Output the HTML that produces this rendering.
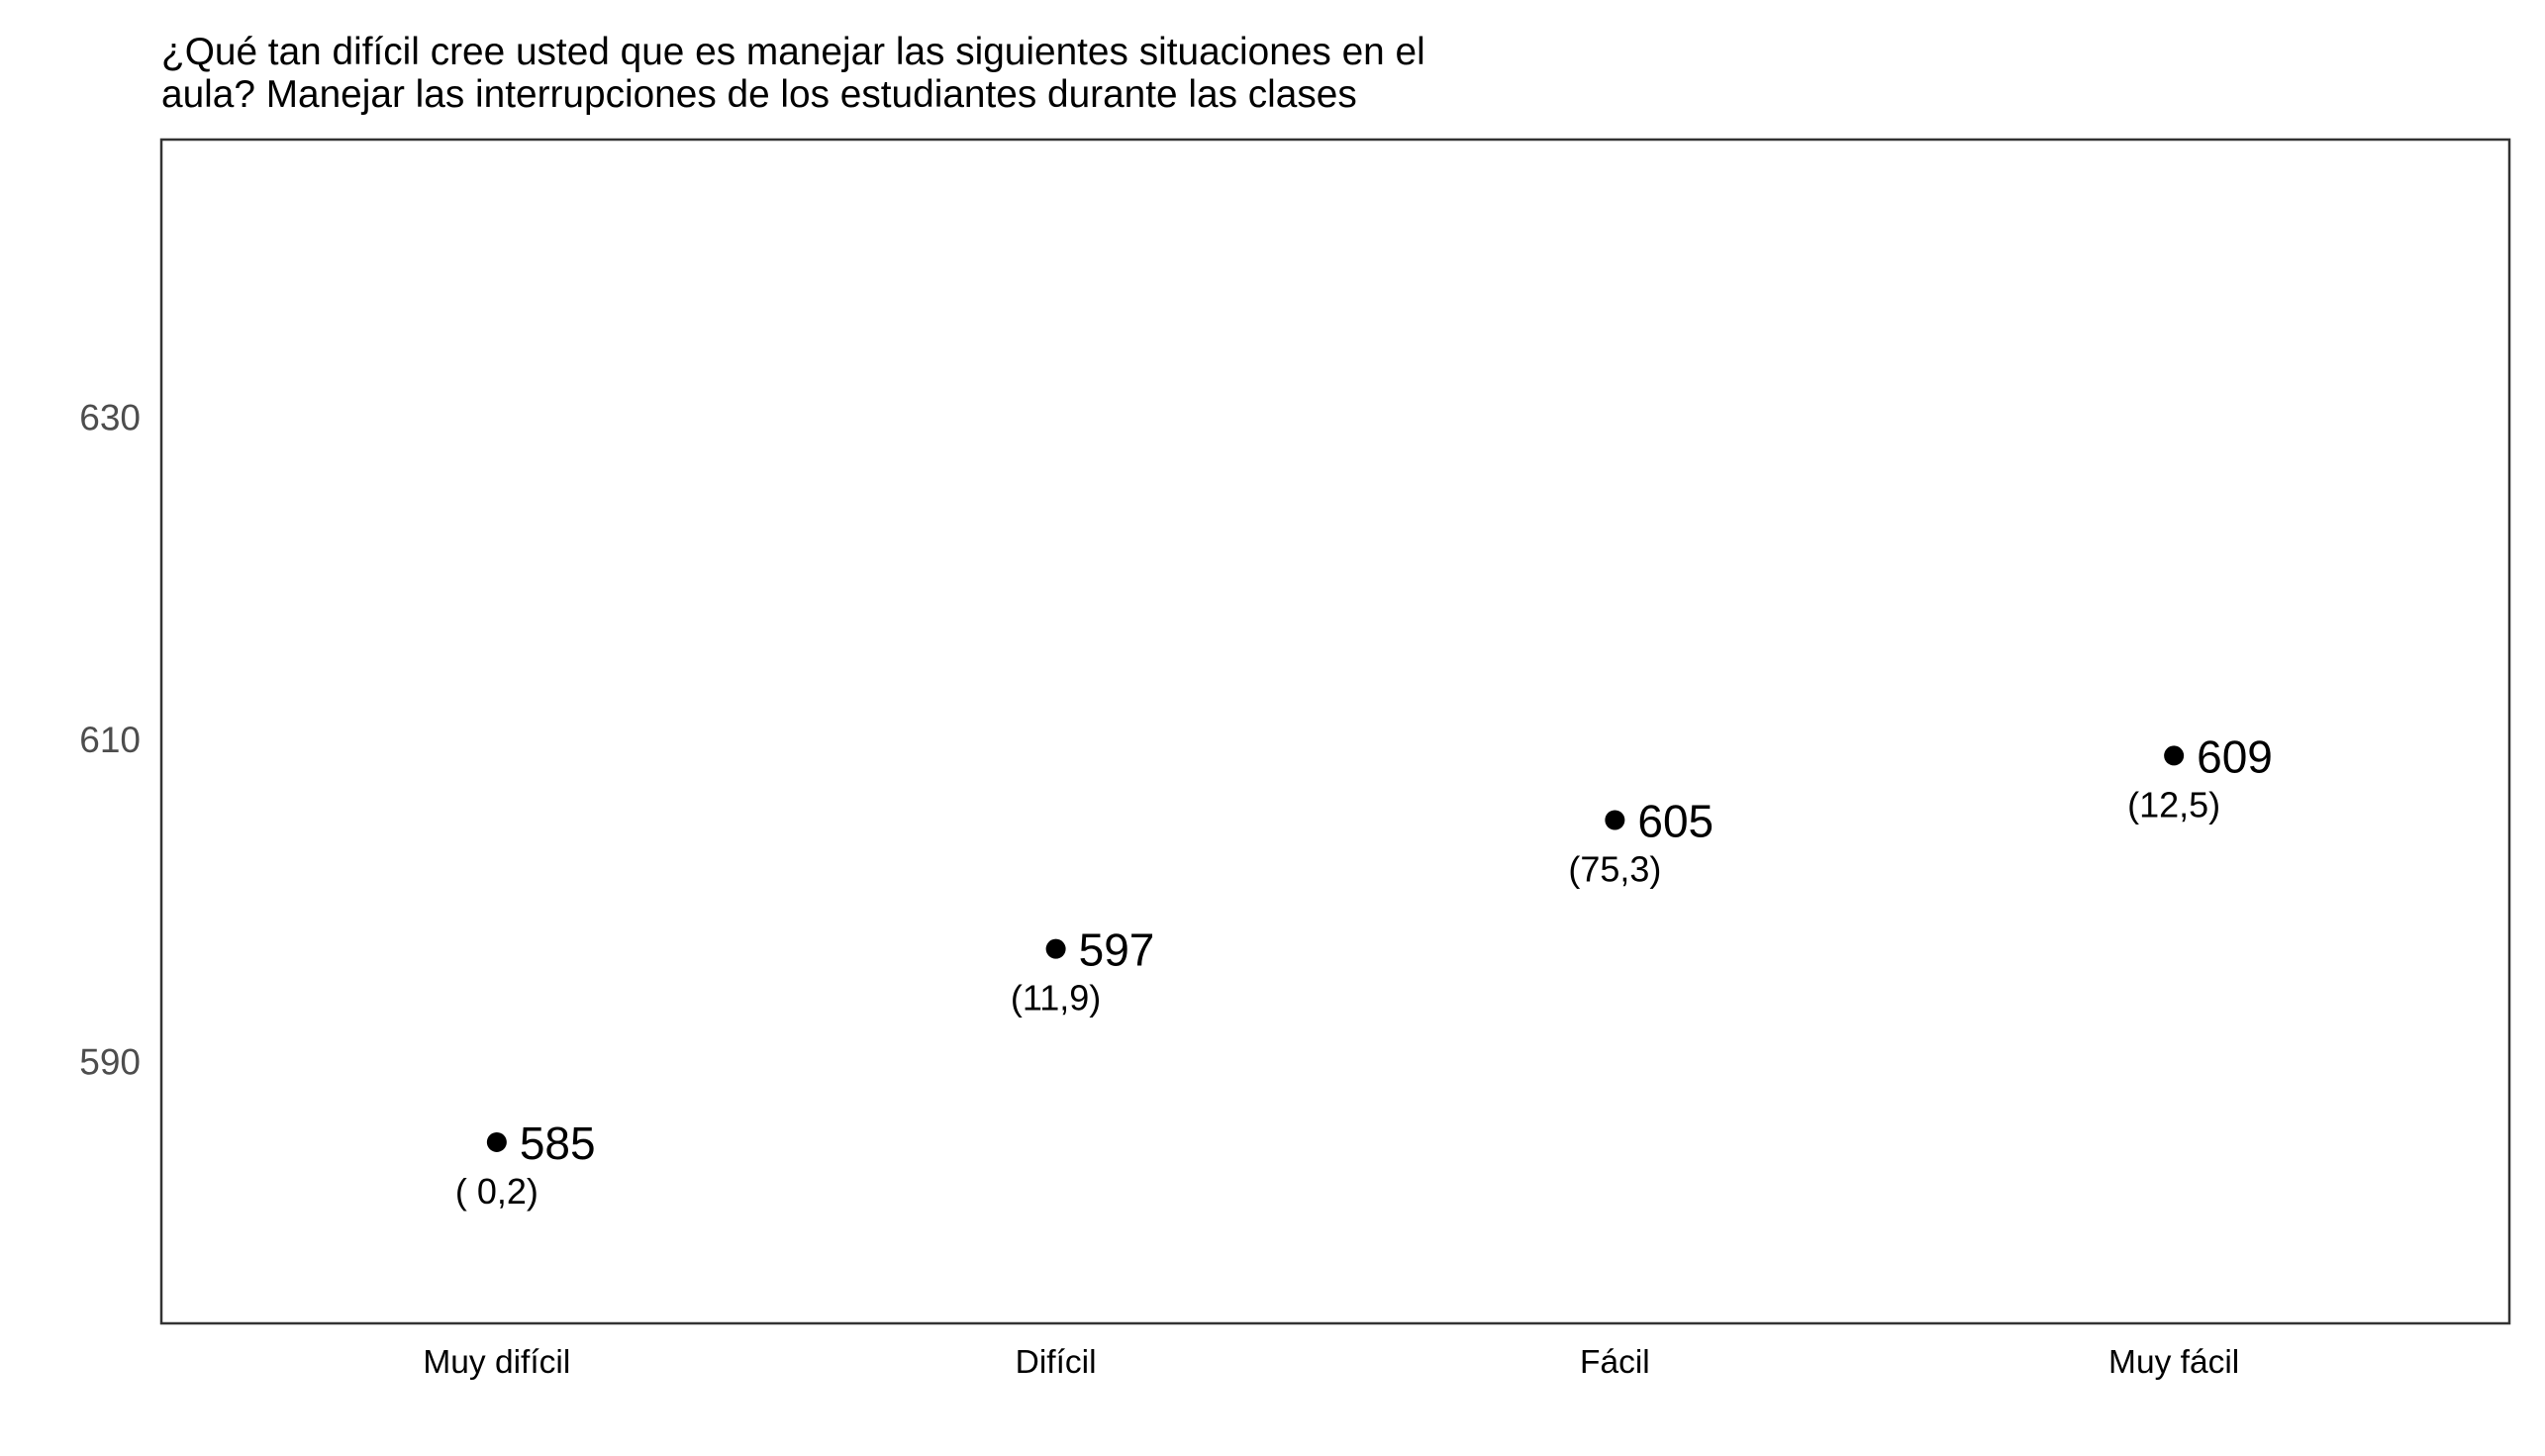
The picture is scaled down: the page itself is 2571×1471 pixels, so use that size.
<!DOCTYPE html>
<html><head><meta charset="utf-8"><style>
html,body{margin:0;padding:0;background:#fff;}
svg{display:block;font-family:"Liberation Sans",Arial,sans-serif;}
</style></head><body>
<svg id="chart" width="2571" height="1471" viewBox="0 0 2571 1471">
<rect width="2571" height="1471" fill="#fff"/>
<g>
<text x="163" y="65" font-size="38.8" fill="#000">¿Qué tan difícil cree usted que es manejar las siguientes situaciones en el</text>
<text x="163" y="108" font-size="38.8" fill="#000">aula? Manejar las interrupciones de los estudiantes durante las clases</text>
</g>
<rect x="163" y="141" width="2372" height="1196" fill="none" stroke="#333" stroke-width="2.5"/>
<g id="yaxis"></g>
<g id="xaxis"></g>
<g id="marks"></g>
</svg>
<script>
const categories = ["Muy difícil","Difícil","Fácil","Muy fácil"];
const values = [585, 597, 605, 609];
const valueLabels = ["585","597","605","609"];
const seLabels = ["( 0,2)","(11,9)","(75,3)","(12,5)"];
const yTicks = [590, 610, 630];

const NS = "http://www.w3.org/2000/svg";
const pLeft = 163, pRight = 2535, pTop = 141, pBottom = 1337;
const yMin = 573.75, yMax = 647.25;
function yPos(v){ return pBottom - (v - yMin) / (yMax - yMin) * (pBottom - pTop); }
function xPos(i){ const step = (pRight - pLeft) / (categories.length - 1 + 1.2); return pLeft + (0.6 + i) * step; }
function mk(tag, attrs, parent, txt){
  const el = document.createElementNS(NS, tag);
  for (const k in attrs) el.setAttribute(k, attrs[k]);
  if (txt !== undefined) el.textContent = txt;
  parent.appendChild(el);
  return el;
}
const ya = document.getElementById('yaxis');
yTicks.forEach(t => {
  const el = mk('text', {x: 142, y: yPos(t) + 13, 'font-size': 37, fill: '#4d4d4d', 'text-anchor': 'end'}, ya, String(t));
  
  
});
const xa = document.getElementById('xaxis');
categories.forEach((c, i) => {
  const el = mk('text', {x: xPos(i), y: 1387, 'font-size': 33.5, fill: '#000', 'text-anchor': 'middle'}, xa, c);
  
  
});
const mg = document.getElementById('marks');
values.forEach((v, i) => {
  const cx = xPos(i), cy = yPos(v);
  const p = mk('circle', {cx: cx, cy: cy, r: 10, fill: '#000'}, mg);
  
  
  const t = mk('text', {x: cx + 23, y: cy + 17, 'font-size': 46, fill: '#000'}, mg, valueLabels[i]);
  
  
  const s = mk('text', {x: cx, y: cy + 62, 'font-size': 36, fill: '#000', 'text-anchor': 'middle'}, mg, seLabels[i]);
  
  
});
</script>
</body></html>
